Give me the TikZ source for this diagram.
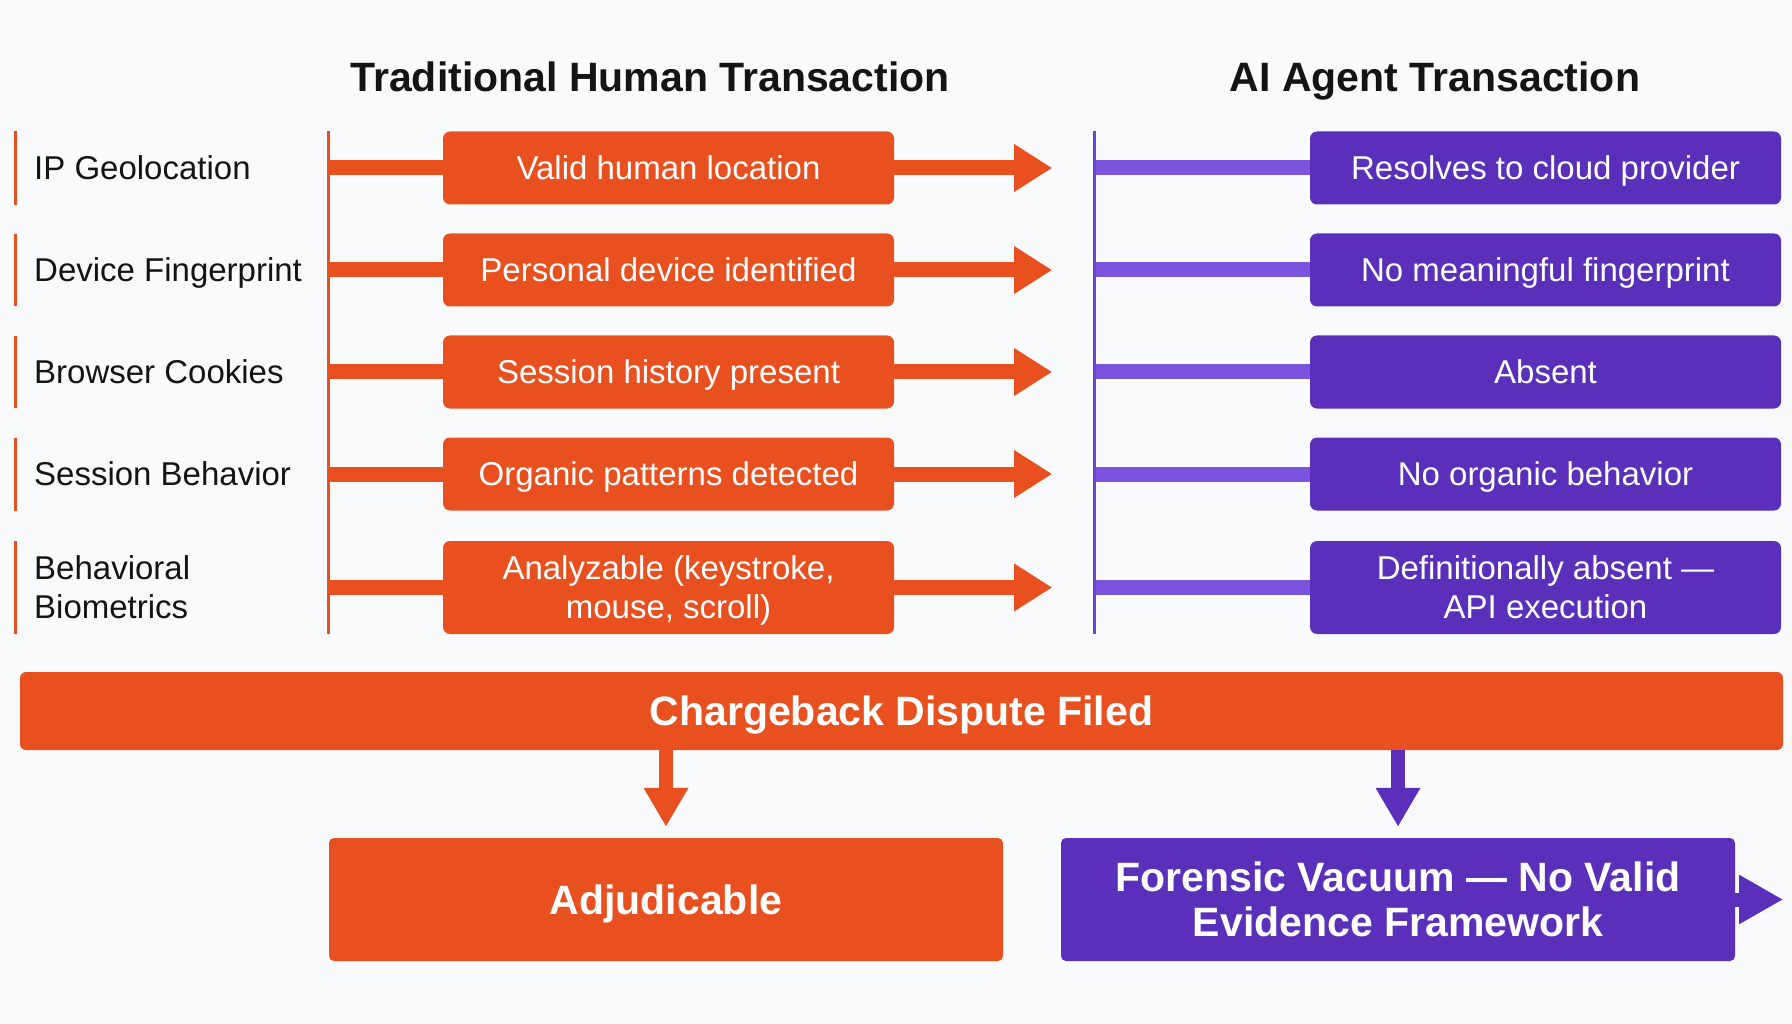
\documentclass[tikz,border=0pt]{standalone}
\usepackage{fontspec}
\setmainfont{Liberation Sans}
\usetikzlibrary{arrows.meta,calc}
\definecolor{org}{HTML}{E8511F}
\definecolor{pur}{HTML}{5A30BA}
\definecolor{purl}{HTML}{7A54DC}
\definecolor{purv}{HTML}{6A45CF}
\definecolor{bg}{HTML}{F8FAFC}
\definecolor{ink}{HTML}{141414}
\begin{document}
\begin{tikzpicture}[x=1pt,y=-1pt,
  regf/.style={font=\fontsize{33}{39}\selectfont},
  boldf/.style={font=\bfseries\fontsize{41}{45}\selectfont},
  one/.style={text height=23.6pt,text depth=0pt},
  oneb/.style={text height=29.4pt,text depth=0pt},
  obox/.style={regf,fill=org,rounded corners=7pt,text=white,minimum width=451pt,minimum height=73pt,align=center,inner sep=0pt},
  pbox/.style={regf,fill=pur,rounded corners=7pt,text=white,minimum width=471pt,minimum height=73pt,align=center,inner sep=0pt},
  lbl/.style={regf,anchor=west,text=ink,align=left,inner sep=0pt},
  ttl/.style={boldf,text=ink,inner sep=0pt,oneb},
  oconn/.style={draw=org,line width=15pt},
  pconn/.style={draw=purl,line width=15pt},
  oarr/.style={draw=org,line width=15pt,-{Triangle[length=38pt,width=45pt]}},
  darr/.style={line width=14pt,-{Triangle[length=39pt,width=42pt]}},
  thin/.style={line width=3pt}
]
\useasboundingbox[fill=bg] (0,0) rectangle (1792,1024);

% titles
\node[ttl] (t1) at (650,77) {Traditional Human Transaction};
\node[ttl] (t2) at (1435,77) {AI Agent Transaction};

% left labels
\node[lbl,one] (l1) at (34,168) {IP Geolocation};
\node[lbl,one] (l2) at (34,270) {Device Fingerprint};
\node[lbl,one] (l3) at (34,372) {Browser Cookies};
\node[lbl,one] (l4) at (34,474) {Session Behavior};
\node[lbl] (l5) at (34,587.5) {Behavioral\\Biometrics};

% left bars
\draw[org,thin] (15,131) -- (15,205);
\draw[org,thin] (15,234) -- (15,306);
\draw[org,thin] (15,336) -- (15,408);
\draw[org,thin] (15,438) -- (15,511);
\draw[org,thin] (15,541) -- (15,634);

% orange boxes
\node[obox,one] (o1) at (668.5,168) {Valid human location};
\node[obox,one] (o2) at (668.5,270) {Personal device identified};
\node[obox,one] (o3) at (668.5,372) {Session history present};
\node[obox,one] (o4) at (668.5,474) {Organic patterns detected};
\node[obox,minimum height=93pt] (o5) at (668.5,587.5) {Analyzable (keystroke,\\\smash{mouse, scroll)}};

% purple boxes
\node[pbox,one] (p1) at (1545.5,168) {Resolves to cloud provider};
\node[pbox,one] (p2) at (1545.5,270) {No meaningful fingerprint};
\node[pbox,one] (p3) at (1545.5,372) {Absent};
\node[pbox,one] (p4) at (1545.5,474) {No organic behavior};
\node[pbox,minimum height=93pt] (p5) at (1545.5,587.5) {Definitionally absent —\\API execution};

% orange vertical line and connectors
\coordinate (ovt) at (328,131);
\coordinate (ovb) at (328,634);
\draw[org,thin] (ovt) -- (ovb);
\foreach \i in {1,...,5}{
  \draw[oconn] (o\i.west -| ovt) -- (o\i.west);
}
% arrows to the right
\foreach \i in {1,...,5}{
  \coordinate (h\i) at ($(o\i.east)+(158,0)$);
  \draw[oarr] (o\i.east) -- (h\i);
}
% purple vertical line and connectors
\coordinate (pvt) at (1094,131);
\coordinate (pvb) at (1094,634);
\foreach \i in {1,...,5}{
  \draw[pconn] (p\i.west -| pvt) -- (p\i.west);
}
\draw[purv,thin] (pvt) -- (pvb);

% chargeback bar
\node[boldf,oneb,fill=org,text=white,rounded corners=6pt,minimum width=1763pt,minimum height=78pt,inner sep=0pt] (cb) at (901.5,711) {Chargeback Dispute Filed};

% outcome boxes
\node[boldf,oneb,fill=org,text=white,rounded corners=5pt,minimum width=674pt,minimum height=123pt,inner sep=0pt] (adj) at (666,899.5) {Adjudicable};
\node[boldf,fill=pur,text=white,rounded corners=5pt,minimum width=674pt,minimum height=123pt,inner sep=0pt,align=center] (fv) at (1398,899.5) {Forensic Vacuum — No Valid\\Evidence Framework};

\coordinate (da) at ($(adj.north)+(0,-11)$);
\coordinate (dp) at ($(fv.north)+(0,-11)$);
\draw[darr,draw=org] (cb.south -| adj.north) -- (da);
\draw[darr,draw=pur] (cb.south -| fv.north) -- (dp);
\coordinate (fe) at ($(fv.east)+(48,0)$);
\draw[line width=14pt,draw=pur,-{Triangle[length=44pt,width=46pt]}] (fv.east) -- (fe);
\end{tikzpicture}
\end{document}
